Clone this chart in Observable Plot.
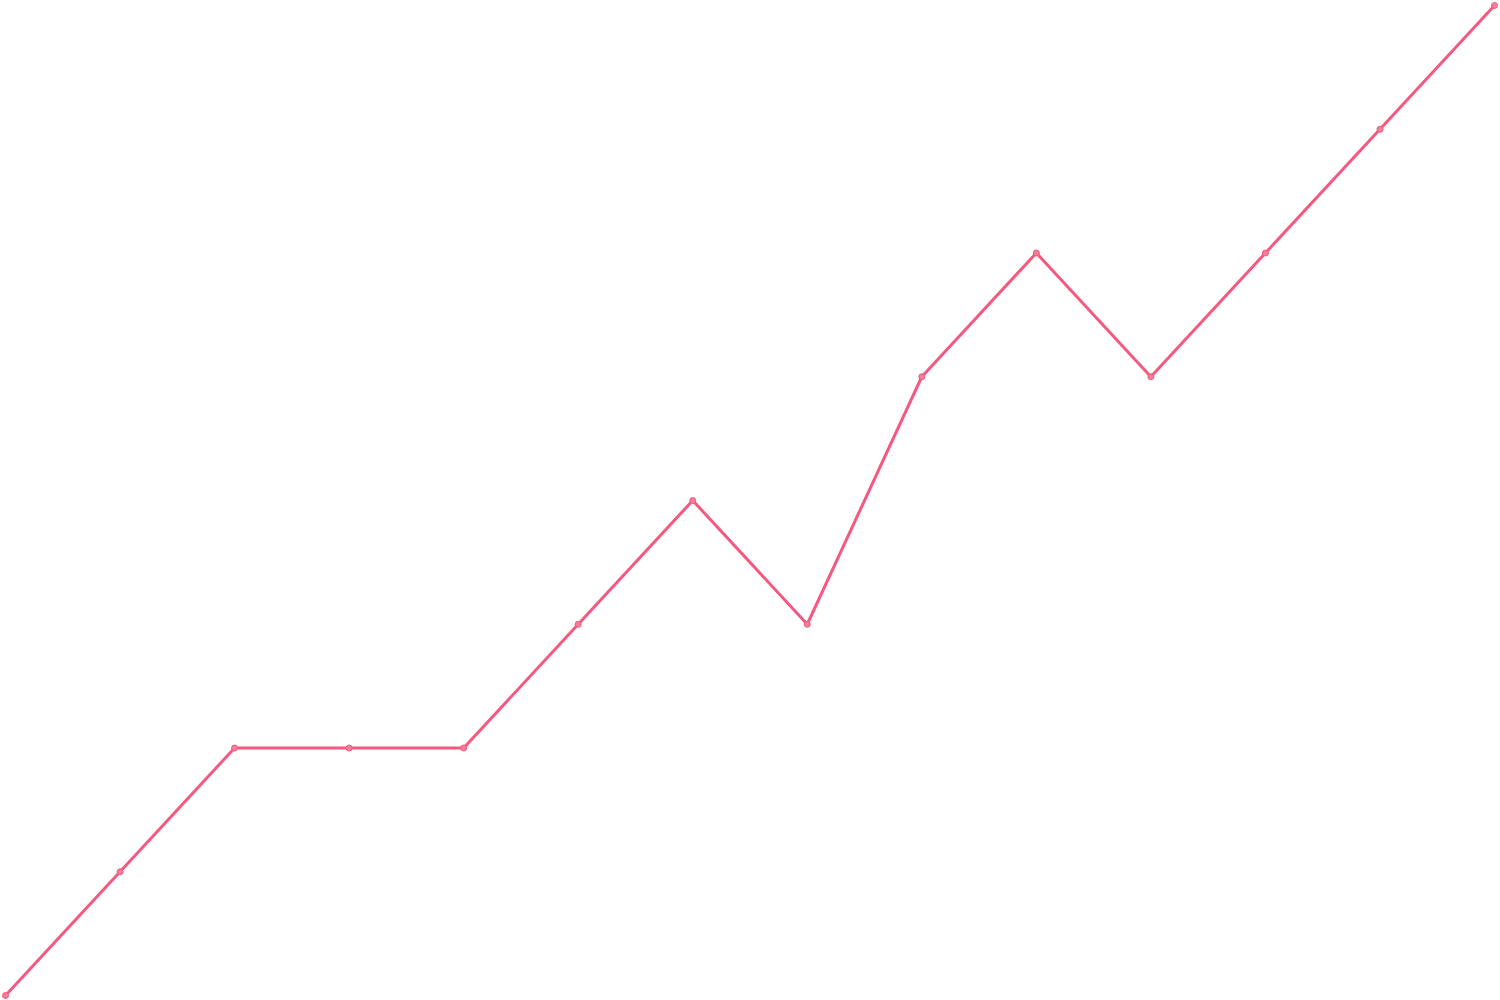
<!DOCTYPE html>
<html><head><meta charset="utf-8">
<script src="https://cdn.jsdelivr.net/npm/d3@7"></script>
<script src="https://cdn.jsdelivr.net/npm/@observablehq/plot@0.6"></script>
<style>body{margin:0;background:#fff}</style>
</head><body><div id="chart"></div>
<script>
const steps = [0,1,2,3,4,5,6,7,8,9,10,11,12,13];
const values = [0,1,2,2,2,3,4,3,5,6,5,6,7,8];
const data = steps.map((s,i)=>({x:s,y:values[i]}));
const chart = Plot.plot({
  width:1500, height:1000,
  marginTop:5, marginBottom:5, marginLeft:5, marginRight:6,
  x:{domain:[0,13], axis:null},
  y:{domain:[0,8], axis:null},
  marks:[
    Plot.line(data,{x:"x",y:"y",stroke:"#f5597f",strokeWidth:3}),
    Plot.dot(data,{x:"x",y:"y",r:3,fill:"#f07f9a",stroke:"#f5597f",strokeWidth:1})
  ]
});
document.getElementById("chart").append(chart);
</script></body></html>
